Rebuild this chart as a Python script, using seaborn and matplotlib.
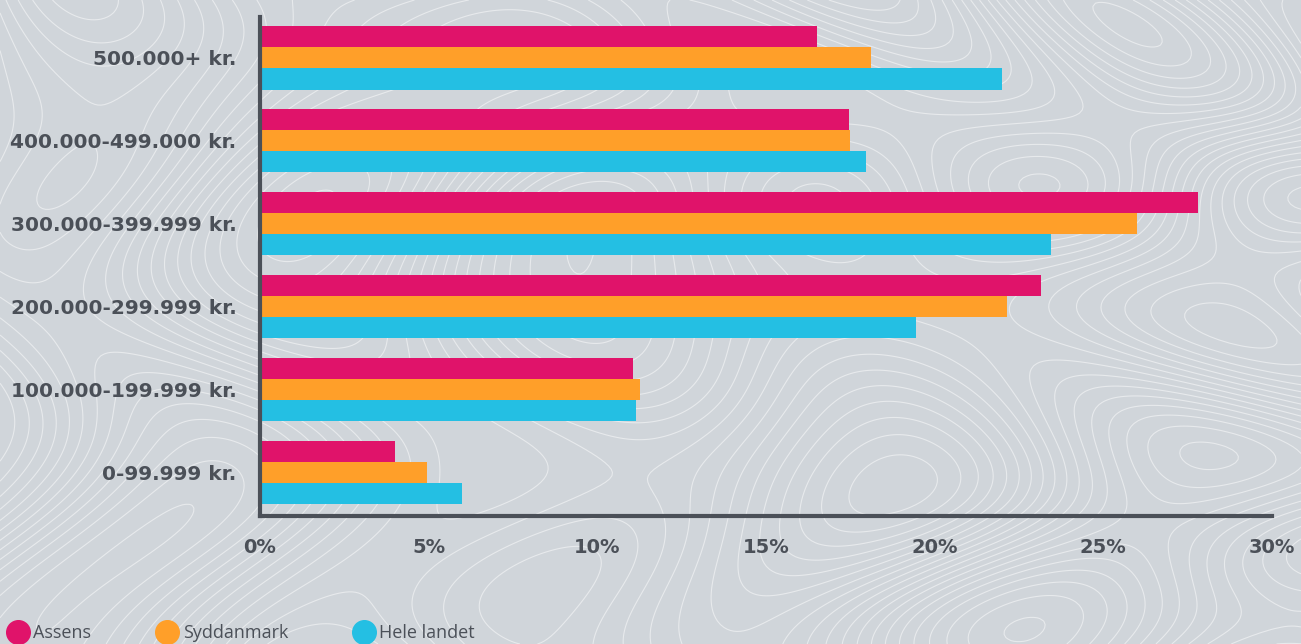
import pandas as pd
import seaborn as sns
import matplotlib.pyplot as plt
import numpy as np
from matplotlib.lines import Line2D

# values (percent)
kategorier = ['500.000+ kr.', '400.000-499.000 kr.', '300.000-399.999 kr.',
              '200.000-299.999 kr.', '100.000-199.999 kr.', '0-99.999 kr.']
assens = [16.5, 17.45, 27.8, 23.15, 11.05, 4.0]
syddanmark = [18.1, 17.5, 26.0, 22.15, 11.25, 4.95]
hele_landet = [22.0, 17.95, 23.45, 19.45, 11.15, 6.0]
omraader = ['Assens', 'Syddanmark', 'Hele landet']
farver = ['#e0136a', '#ff9f29', '#24bfe3']
xticks = [0, 5, 10, 15, 20, 25, 30]

df = pd.DataFrame({
    'kategori': kategorier * 3,
    'andel': assens + syddanmark + hele_landet,
    'omraade': [o for o in omraader for _ in kategorier],
})

bg = '#d0d5da'
ink = '#4b5058'

sns.set_style('white')
plt.rcParams['font.family'] = ['DejaVu Sans']

fig = plt.figure(figsize=(13.01, 6.44), dpi=100)
fig.patch.set_facecolor(bg)

# faint contour-line texture in the background
bgax = fig.add_axes([0, 0, 1, 1], zorder=-1)
gx, gy = np.meshgrid(np.linspace(0, 13, 400), np.linspace(0, 6.4, 200))
field = (np.sin(gx * 1.3 + np.cos(gy * 1.7)) + np.cos(gy * 1.1 - gx * 0.6)
         + 0.6 * np.sin(gx * 0.7 * gy * 0.4 + 1.0))
bgax.contour(gx, gy, field, levels=24, colors='white', linewidths=0.8,
             linestyles='solid', alpha=0.5)
bgax.set_facecolor(bg)
bgax.axis('off')

ax = fig.add_axes([260 / 1301, 1 - 516 / 644, (1272 - 260) / 1301, (516 - 17) / 644])
ax.patch.set_alpha(0)
sns.barplot(data=df, y='kategori', x='andel', hue='omraade', order=kategorier,
            hue_order=omraader, palette=farver, orient='h', width=0.76,
            saturation=1, linewidth=0, ax=ax, legend=False)

ax.set_xlim(0, 30)
ax.set_ylim(5.52, -0.494)
ax.set_xticks(xticks)
ax.set_xticklabels([f'{t}%' for t in xticks])
ax.set_xlabel('')
ax.set_ylabel('')
for s in ['top', 'right']:
    ax.spines[s].set_visible(False)
for s in ['left', 'bottom']:
    ax.spines[s].set_color(ink)
    ax.spines[s].set_linewidth(3)
ax.tick_params(axis='x', direction='out', length=7, width=3, color=ink,
               labelsize=14, labelcolor=ink, pad=9)
ax.tick_params(axis='y', length=0, labelsize=14.5, labelcolor=ink, pad=17)
for lab in ax.get_xticklabels() + ax.get_yticklabels():
    lab.set_fontweight('bold')

handles = [Line2D([], [], marker='o', linestyle='', markersize=17,
                  markerfacecolor=c, markeredgecolor=c) for c in farver]
leg = fig.legend(handles, omraader, loc='center left', ncol=3,
                 bbox_to_anchor=(0.0, 1 - 633 / 644), frameon=False,
                 prop={'family': 'Open Sans', 'size': 13}, labelcolor=ink,
                 handletextpad=0.25, columnspacing=3.6, borderaxespad=0,
                 handlelength=1.2)

fig.savefig('out.png', dpi=100, facecolor=bg)
